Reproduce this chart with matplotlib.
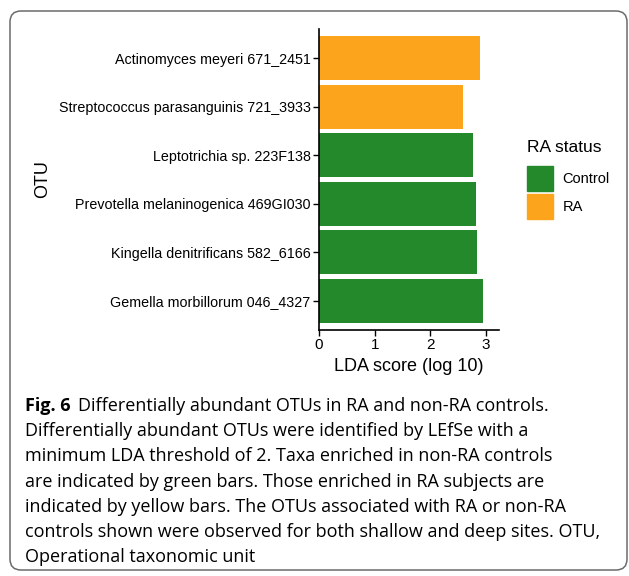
import matplotlib.pyplot as plt
import matplotlib.patches as mpatches
import matplotlib.transforms as mtransforms
import numpy as np

otus = ['Actinomyces meyeri 671_2451',
        'Streptococcus parasanguinis 721_3933',
        'Leptotrichia sp. 223F138',
        'Prevotella melaninogenica 469GI030',
        'Kingella denitrificans 582_6166',
        'Gemella morbillorum 046_4327']
lda = [2.89, 2.58, 2.76, 2.82, 2.84, 2.94]
status = ['RA', 'RA', 'Control', 'Control', 'Control', 'Control']
groups = ['Control', 'RA']
colours = {'Control': '#23892a', 'RA': '#fba41c'}

caption_lines = [
    'Differentially abundant OTUs in RA and non-RA controls.',
    'Differentially abundant OTUs were identified by LEfSe with a',
    'minimum LDA threshold of 2. Taxa enriched in non-RA controls',
    'are indicated by green bars. Those enriched in RA subjects are',
    'indicated by yellow bars. The OTUs associated with RA or non-RA',
    'controls shown were observed for both shallow and deep sites. OTU,',
    'Operational taxonomic unit',
]

plt.rcParams['font.family'] = ['Liberation Sans', 'DejaVu Sans']

fig = plt.figure(figsize=(6.29, 5.76), dpi=100)
W, H = 629, 576

# rounded frame around figure + caption
frame = mpatches.FancyBboxPatch((10, H - 570), 617, 559,
                                boxstyle='round,pad=0,rounding_size=11',
                                transform=mtransforms.IdentityTransform(),
                                fill=False, edgecolor='#6b6b6b', linewidth=1.1)
fig.patches.append(frame)

ax = fig.add_axes([319 / W, 1 - 330 / H, 180 / W, 301 / H])
y = np.arange(len(otus))[::-1] + 1
ax.barh(y, lda, height=0.9, color=[colours[s] for s in status])
ax.set_ylim(0.4, 6.6)
ax.set_xlim(0, 3.23)
ax.set_yticks(y)
ax.set_yticklabels(otus, fontsize=10.3)
ax.set_xticks([0, 1, 2, 3])
ax.tick_params(axis='x', labelsize=11, length=4, width=1, color='black', pad=2)
ax.tick_params(axis='y', length=4, width=1, color='black', pad=2)
for s in ['top', 'right']:
    ax.spines[s].set_visible(False)
for s in ['left', 'bottom']:
    ax.spines[s].set_linewidth(1.2)
ax.set_xlabel('LDA score (log 10)', fontsize=13, labelpad=4)
ax.set_ylabel('OTU', fontsize=13)
ax.yaxis.set_label_coords((51 - 319) / 180, 0.5)

# legend
fig.text(527 / W, 1 - 148 / H, 'RA status', fontsize=12.5,
         va='center', ha='left')
handles = [mpatches.Patch(color=colours[g], label=g) for g in groups]
leg = fig.legend(handles=handles, loc='upper left',
                 bbox_to_anchor=(527 / W, 1 - 166 / H), frameon=False,
                 fontsize=10.5, handlelength=1.8,
                 handleheight=2.28, labelspacing=0.2, handletextpad=0.65,
                 borderpad=0, borderaxespad=0)

# caption
cap_font = ['Open Sans', 'DejaVu Sans']
cap_size = 13
x0 = 25 / W
y0 = 1 - 406 / H
step = 25.2 / H
t = fig.text(x0, y0, 'Fig. 6', fontsize=cap_size, fontweight='bold',
             family=cap_font, va='center', ha='left')
fig.canvas.draw()
bb = t.get_window_extent()
fig.text((bb.x1 + 7) / W, y0, caption_lines[0], fontsize=cap_size,
         family=cap_font, va='center', ha='left')
for i, line in enumerate(caption_lines[1:], start=1):
    fig.text(x0, y0 - i * step, line, fontsize=cap_size, family=cap_font,
             va='center', ha='left')

fig.savefig('out.png', dpi=100)
